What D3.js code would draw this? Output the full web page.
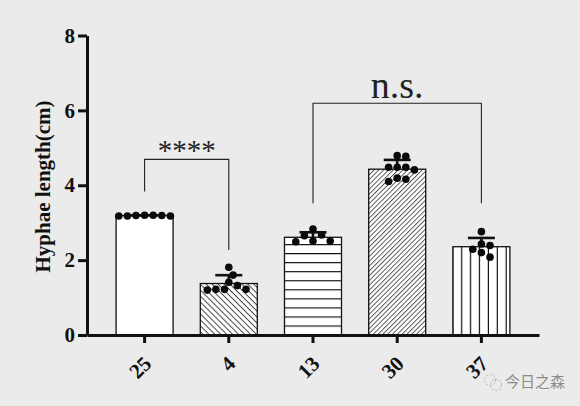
<!DOCTYPE html>
<html>
<head>
<meta charset="utf-8">
<script src="https://cdn.jsdelivr.net/npm/d3@7"></script>
<style>
  html, body { margin: 0; padding: 0; background: #ebebeb; }
  svg { display: block; }
</style>
</head>
<body>
<svg id="chart" width="580" height="406"></svg>
<script>
// temperature groups (x categories)
const temps = ["25", "4", "13", "30", "37"];

// hyphae length of each replicate
const len25 = [3.18, 3.20, 3.19, 3.18, 3.19, 3.20, 3.18];
const len4 = [1.81, 1.60, 1.41, 1.32, 1.22, 1.20, 1.22, 1.22];
const len13 = [2.83, 2.67, 2.65, 2.51, 2.51, 2.49];
const len30 = [4.79, 4.77, 4.48, 4.48, 4.48, 4.41, 4.19, 4.16, 4.10];
const len37 = [2.76, 2.43, 2.39, 2.29, 2.20, 2.08];
const replicates = [len25, len4, len13, len30, len37];

const yTicks = [0, 2, 4, 6, 8];

// significance brackets: left group, right group, label, bracket top, leg ends
const sigFrom = ["25", "13"];
const sigTo = ["4", "37"];
const sigLabel = ["****", "n.s."];
const sigTop = [4.69, 6.19];
const sigLegL = [3.83, 3.52];
const sigLegR = [2.27, 3.52];

const svg = d3.select("#chart");
const serif = "Liberation Serif, Times New Roman, serif";

const x = d3.scaleBand().domain(temps).range([87, 539])
  .paddingInner(0.323).paddingOuter(0.3455);
const y = d3.scaleLinear().domain([0, 8]).range([335, 35.5]);

// hatch patterns
const defs = svg.append("defs");
function hatch(id, size, angle, width, color, tx, ty) {
  const p = defs.append("pattern").attr("id", id)
    .attr("patternUnits", "userSpaceOnUse")
    .attr("width", size).attr("height", size)
    .attr("patternTransform", `translate(${tx || 0},${ty || 0}) rotate(${angle})`);
  p.append("rect").attr("width", size).attr("height", size).attr("fill", "#fff");
  p.append("line").attr("x1", -1).attr("x2", size + 1).attr("y1", 0.5).attr("y2", 0.5)
    .attr("stroke", color).attr("stroke-width", width);
}
hatch("back", 4.2, 45, 0.9, "#333");
hatch("horiz", 9.05, 0, 1.3, "#111", 0, y(0) - 0.5);
hatch("fwd", 3.4, -45, 0.8, "#333");
hatch("vert", 8.9, 90, 1.4, "#111", x("37") + 0.5, 0);
const fills = { "25": "#fff", "4": "url(#back)", "13": "url(#horiz)", "30": "url(#fwd)", "37": "url(#vert)" };

const stats = temps.map((t, i) => ({
  t,
  mean: d3.mean(replicates[i]),
  sd: d3.deviation(replicates[i]),
  vals: replicates[i]
}));

// bars
svg.append("g").selectAll("rect").data(stats).join("rect")
  .attr("x", d => x(d.t))
  .attr("y", d => y(d.mean))
  .attr("width", x.bandwidth())
  .attr("height", d => y(0) - y(d.mean))
  .attr("fill", d => fills[d.t])
  .attr("stroke", "#111")
  .attr("stroke-width", 1.3);

// error bars (mean + SD only)
const err = svg.append("g").attr("stroke", "#111").attr("stroke-width", 2.6);
stats.forEach(d => {
  const cx = x(d.t) + x.bandwidth() / 2;
  err.append("line").attr("x1", cx).attr("x2", cx).attr("y1", y(d.mean)).attr("y2", y(d.mean + d.sd));
  err.append("line").attr("x1", cx - 13.5).attr("x2", cx + 13.5).attr("y1", y(d.mean + d.sd)).attr("y2", y(d.mean + d.sd));
});

// scatter dots, spread so they do not overlap
function swarm(values, cx) {
  const h = 4.3, dmin = 8.2, placed = [];
  values.slice().sort((a, b) => b - a).forEach(v => {
    const py = y(v);
    for (let k = 0; k < 40; k++) {
      const off = k === 0 ? 0 : (k % 2 ? 1 : -1) * Math.ceil(k / 2) * h;
      if (placed.every(p => Math.hypot(p.x - (cx + off), p.y - py) >= dmin)) {
        placed.push({ x: cx + off, y: py });
        break;
      }
    }
  });
  return placed;
}
const dots = svg.append("g").attr("fill", "#0a0a0a");
stats.forEach(d => {
  dots.selectAll(null).data(swarm(d.vals, x(d.t) + x.bandwidth() / 2)).join("circle")
    .attr("cx", p => p.x).attr("cy", p => p.y).attr("r", 3.8);
});

// y axis
const yAxis = svg.append("g").attr("transform", `translate(${x.range()[0]},0)`)
  .call(d3.axisLeft(y).tickValues(yTicks).tickSize(9).tickSizeOuter(0).tickPadding(3));
yAxis.attr("font-family", serif).attr("font-size", 21).attr("font-weight", "bold");
yAxis.select(".domain").attr("stroke", "#111").attr("stroke-width", 3);
yAxis.selectAll(".tick line").attr("stroke", "#111").attr("stroke-width", 3);
yAxis.selectAll(".tick text").attr("fill", "#111");

// x axis
const xAxis = svg.append("g").attr("transform", `translate(0,${y(0)})`)
  .call(d3.axisBottom(x).tickSize(8).tickSizeOuter(0));
xAxis.attr("font-family", serif).attr("font-size", 21).attr("font-weight", "bold");
xAxis.select(".domain").attr("stroke", "#111").attr("stroke-width", 3);
xAxis.selectAll(".tick line").attr("stroke", "#111").attr("stroke-width", 3);
xAxis.selectAll(".tick text")
  .attr("fill", "#111")
  .attr("x", 0).attr("y", 0).attr("dy", 0)
  .attr("text-anchor", "end")
  .attr("transform", "translate(8,30) rotate(-45)");

// y title
svg.append("text")
  .attr("transform", "translate(50,186.5) rotate(-90)")
  .attr("text-anchor", "middle")
  .attr("font-family", serif).attr("font-weight", "bold").attr("font-size", 21).attr("fill", "#111")
  .text("Hyphae length(cm)");

// significance brackets
const sig = svg.append("g");
sigFrom.forEach((a, i) => {
  const xa = x(a) + x.bandwidth() / 2, xb = x(sigTo[i]) + x.bandwidth() / 2;
  sig.append("path")
    .attr("d", `M${xa},${y(sigLegL[i])}V${y(sigTop[i])}H${xb}V${y(sigLegR[i])}`)
    .attr("fill", "none").attr("stroke", "#222").attr("stroke-width", 1.1);
  const star = sigLabel[i].startsWith("*");
  sig.append("text")
    .attr("x", (xa + xb) / 2)
    .attr("y", star ? y(sigTop[i]) + 1 : y(sigTop[i]) - 5)
    .attr("text-anchor", "middle")
    .attr("font-family", serif)
    .attr("font-size", star ? 29 : 38)
    .attr("fill", "#222")
    .text(sigLabel[i]);
});

// watermark
const wm = svg.append("g").attr("fill", "none").attr("stroke", "#b5b5b5").attr("stroke-width", 1)
  .attr("stroke-dasharray", "2,1.5");
wm.append("circle").attr("cx", 490).attr("cy", 380).attr("r", 5.5);
wm.append("circle").attr("cx", 496).attr("cy", 385).attr("r", 5.5);
svg.append("text").attr("x", 505).attr("y", 387)
  .attr("font-family", "'Noto Sans CJK SC', sans-serif").attr("font-size", 15)
  .attr("fill", "#8c8c8c").text("今日之森");
</script>
</body>
</html>
